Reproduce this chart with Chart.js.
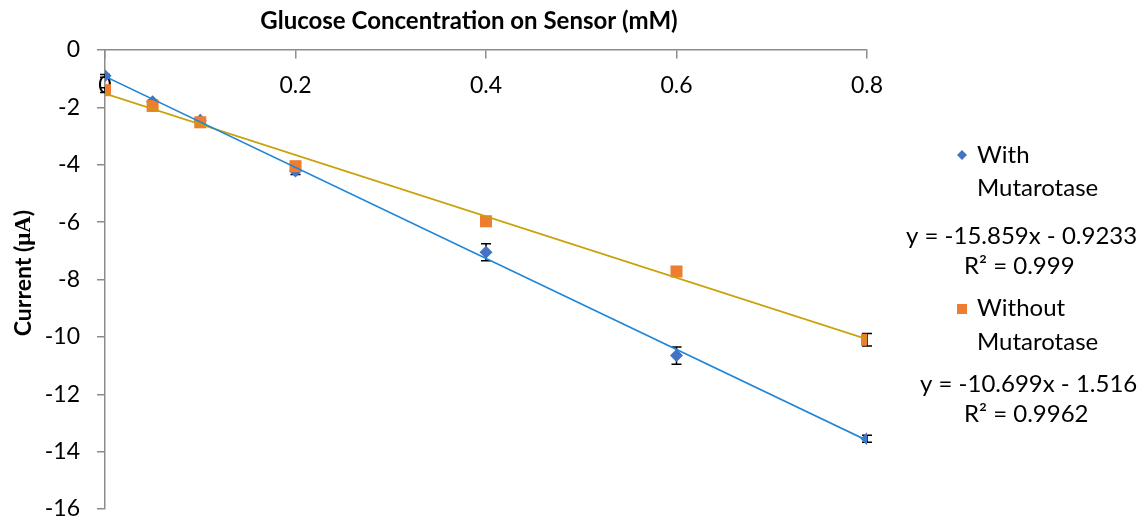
<!DOCTYPE html>
<html>
<head>
<meta charset="utf-8">
<script src="https://cdn.jsdelivr.net/npm/chart.js@4.4.0/dist/chart.umd.min.js"></script>
<style>
  html, body { margin: 0; padding: 0; background: #fff; }
  #wrap { position: relative; width: 1144px; height: 520px; }
</style>
</head>
<body>
<div id="wrap"><canvas id="chart" width="1144" height="520"></canvas></div>
<script>
// glucose concentration (mM)
const concentrations = [0, 0.05, 0.1, 0.2, 0.4, 0.6, 0.8];

// current (uA)
const withMutarotase = [-0.9, -1.8, -2.45, -4.22, -7.05, -10.65, -13.55];
const withErrors = [0.05, 0.05, 0.05, 0.12, 0.3, 0.3, 0.12];
const withoutMutarotase = [-1.4, -1.95, -2.52, -4.05, -5.97, -7.72, -10.1];
const withoutErrors = [0.08, 0.08, 0.08, 0.08, 0.08, 0.08, 0.22];

// linear trendline end points (x = 0 and x = 0.8)
const trendX = [0, 0.8];
const withTrend = [-0.92, -13.61];
const withoutTrend = [-1.52, -10.08];

const yTicks = [0, -2, -4, -6, -8, -10, -12, -14, -16];

const legendLines = [
  { text: "With", x: 977, y: 155 },
  { text: "Mutarotase", x: 977, y: 188 },
  { text: "y = -15.859x - 0.9233", x: 906, y: 236 },
  { text: "R² = 0.999", x: 964, y: 266 },
  { text: "Without", x: 977, y: 308 },
  { text: "Mutarotase", x: 977, y: 342 },
  { text: "y = -10.699x - 1.516", x: 920, y: 384 },
  { text: "R² = 0.9962", x: 964, y: 414 }
];

const FONT = "Lato, 'Open Sans', sans-serif";
const SERIF = "'Liberation Serif', 'DejaVu Serif', serif";

function toPoints(xs, ys) {
  return xs.map((x, i) => ({ x: x, y: ys[i] }));
}

const errorBars = {
  id: "errorBars",
  beforeDatasetsDraw(chart) {
    const ctx = chart.ctx;
    const xs = chart.scales.x;
    const ys = chart.scales.y;
    ctx.save();
    ctx.strokeStyle = "#000";
    ctx.lineWidth = 1.5;
    [[withMutarotase, withErrors], [withoutMutarotase, withoutErrors]].forEach(pair => {
      pair[0].forEach((v, i) => {
        const px = xs.getPixelForValue(concentrations[i]);
        const top = ys.getPixelForValue(v + pair[1][i]);
        const bot = ys.getPixelForValue(v - pair[1][i]);
        ctx.beginPath();
        ctx.moveTo(px, top); ctx.lineTo(px, bot);
        ctx.moveTo(px - 5, top); ctx.lineTo(px + 5, top);
        ctx.moveTo(px - 5, bot); ctx.lineTo(px + 5, bot);
        ctx.stroke();
      });
    });
    ctx.restore();
  }
};

const labels = {
  id: "labels",
  afterDraw(chart) {
    const ctx = chart.ctx;
    ctx.save();
    ctx.fillStyle = "#000";
    ctx.textBaseline = "middle";

    // x axis title
    ctx.font = "bold 24px " + FONT;
    ctx.textAlign = "center";
    ctx.fillText("Glucose Concentration on Sensor (mM)", 469, 21);

    // y axis title, unit in serif like the original
    const parts = [["Current (", FONT], ["μA", SERIF], [")", FONT]];
    let total = 0;
    parts.forEach(p => { ctx.font = "bold 23px " + p[1]; total += ctx.measureText(p[0]).width; });
    ctx.save();
    ctx.translate(24, 273);
    ctx.rotate(-Math.PI / 2);
    ctx.textAlign = "left";
    let pos = -total / 2;
    parts.forEach(p => {
      ctx.font = "bold 23px " + p[1];
      ctx.fillText(p[0], pos, 0);
      pos += ctx.measureText(p[0]).width;
    });
    ctx.restore();

    // legend text
    ctx.font = "24px " + FONT;
    ctx.textAlign = "left";
    legendLines.forEach(l => ctx.fillText(l.text, l.x, l.y));

    // legend markers
    ctx.fillStyle = "#4472C4";
    ctx.beginPath();
    ctx.moveTo(962, 150); ctx.lineTo(967, 155); ctx.lineTo(962, 160); ctx.lineTo(957, 155);
    ctx.closePath();
    ctx.fill();
    ctx.fillStyle = "#ED7D31";
    ctx.fillRect(957, 304, 10, 10);
    ctx.restore();
  }
};

new Chart(document.getElementById("chart"), {
  type: "scatter",
  data: {
    datasets: [
      {
        label: "With trend",
        type: "line",
        data: toPoints(trendX, withTrend),
        borderColor: "#1F85D6",
        borderWidth: 1.6,
        pointRadius: 0,
        fill: false,
        order: 0
      },
      {
        label: "Without trend",
        type: "line",
        data: toPoints(trendX, withoutTrend),
        borderColor: "#C9A005",
        borderWidth: 1.6,
        pointRadius: 0,
        fill: false,
        order: 0
      },
      {
        label: "Without Mutarotase",
        data: toPoints(concentrations, withoutMutarotase),
        pointStyle: "rect",
        pointRadius: 8.5,
        backgroundColor: "#ED7D31",
        borderColor: "#ED7D31",
        borderWidth: 0,
        order: 1
      },
      {
        label: "With Mutarotase",
        data: toPoints(concentrations, withMutarotase),
        pointStyle: "rectRot",
        pointRadius: 6.5,
        backgroundColor: "#4472C4",
        borderColor: "#4472C4",
        borderWidth: 0,
        order: 2
      }
    ]
  },
  options: {
    responsive: false,
    animation: false,
    layout: { padding: { top: 50, right: 277, bottom: 11, left: 0 } },
    plugins: {
      legend: { display: false },
      tooltip: { enabled: false },
      title: { display: false }
    },
    scales: {
      x: {
        type: "linear",
        position: { y: 0 },
        min: 0,
        max: 0.8,
        afterFit: s => { s.height = 0; s.paddingLeft = 0; s.paddingRight = 0; },
        ticks: {
          stepSize: 0.2,
          padding: 14,
          color: "#000",
          font: { family: FONT, size: 23 },
          callback: v => String(Math.round(v * 10) / 10)
        },
        grid: { drawOnChartArea: false, drawTicks: true, tickLength: 8, color: "#8C8C8C", lineWidth: 1.5 },
        border: { color: "#8C8C8C", width: 1.5 }
      },
      y: {
        min: -16,
        max: 0,
        afterFit: s => { s.width = 105; s.paddingTop = 0; s.paddingBottom = 0; },
        afterBuildTicks: s => { s.ticks = yTicks.map(v => ({ value: v })); },
        ticks: {
          padding: 17,
          color: "#000",
          font: { family: FONT, size: 23 }
        },
        grid: { drawOnChartArea: false, drawTicks: true, tickLength: 8, color: "#8C8C8C", lineWidth: 1.5 },
        border: { color: "#8C8C8C", width: 1.5 }
      }
    }
  },
  plugins: [errorBars, labels]
});
</script>
</body>
</html>
